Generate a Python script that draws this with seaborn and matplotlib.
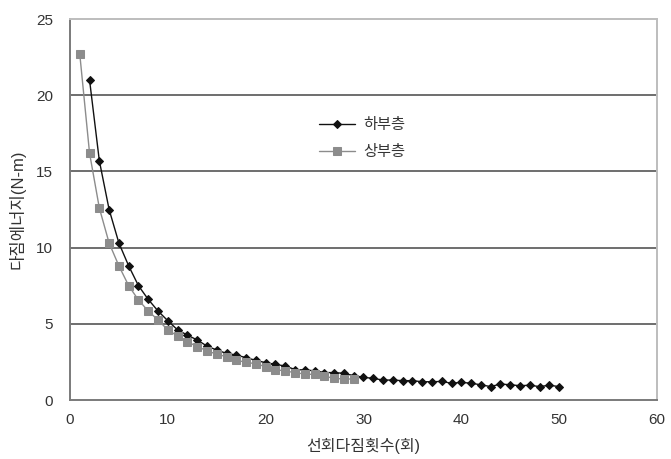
import matplotlib
matplotlib.use("Agg")
import matplotlib.pyplot as plt
import pandas as pd
import seaborn as sns

# ---------------------------------------------------------------------------
# Données
# ---------------------------------------------------------------------------
x_lower = list(range(2, 51))
y_lower = [21.0, 15.7, 12.5, 10.3, 8.8, 7.5, 6.6, 5.84, 5.2, 4.6,
           4.26, 3.94, 3.54, 3.28, 3.06, 2.95, 2.78, 2.6, 2.45, 2.34,
           2.23, 2.0, 1.97, 1.92, 1.8, 1.8, 1.75, 1.6, 1.49, 1.42,
           1.31, 1.31, 1.27, 1.27, 1.2, 1.2, 1.22, 1.1, 1.16, 1.1,
           1.0, 0.88, 1.05, 1.0, 0.94, 0.97, 0.88, 0.97, 0.88]

x_upper = list(range(1, 30))
y_upper = [22.7, 16.2, 12.6, 10.3, 8.8, 7.5, 6.56, 5.84, 5.25, 4.6,
           4.2, 3.83, 3.5, 3.24, 3.0, 2.85, 2.62, 2.47, 2.38, 2.19,
           2.0, 1.9, 1.8, 1.7, 1.68, 1.57, 1.42, 1.38, 1.38]

label_lower = "하부층"
label_upper = "상부층"

df_lower = pd.DataFrame({"x": x_lower, "y": y_lower})
df_upper = pd.DataFrame({"x": x_upper, "y": y_upper})

# ---------------------------------------------------------------------------
# Style
# ---------------------------------------------------------------------------
sns.set_theme(style="white")
plt.rcParams["font.family"] = ["Liberation Sans", "Noto Sans CJK KR", "DejaVu Sans"]

fig = plt.figure(figsize=(6.71, 4.59), dpi=100)
ax = fig.add_axes([0.1043, 0.1285, 0.8748, 0.8301])

sns.lineplot(data=df_lower, x="x", y="y", ax=ax, color="#111111",
             linewidth=1.0, marker="D", markersize=4.2,
             markeredgecolor="#111111", label=label_lower)
sns.lineplot(data=df_upper, x="x", y="y", ax=ax, color="#8c8c8c",
             linewidth=1.0, marker="s", markersize=6,
             markeredgecolor="#8c8c8c", label=label_upper)

ax.set_xlim(0, 60)
ax.set_ylim(0, 25)
ax.set_xticks(range(0, 61, 10))
ax.set_yticks(range(0, 26, 5))

# lignes horizontales de la grille
for yv in [5, 10, 15, 20]:
    ax.axhline(yv, color="#6e6e6e", linewidth=1.4, zorder=0)

for side in ["left", "bottom"]:
    ax.spines[side].set_color("#7a7a7a")
    ax.spines[side].set_linewidth(1.4)
for side in ["top", "right"]:
    ax.spines[side].set_color("#bdbdbd")
    ax.spines[side].set_linewidth(1.4)

ax.tick_params(axis="x", direction="in", length=3, color="#7a7a7a",
               labelsize=11, labelcolor="#333333", pad=9)
ax.tick_params(axis="y", length=0, labelsize=11, labelcolor="#333333", pad=12)

ax.set_xlabel("선회다짐횟수(회)", fontsize=11.5, color="#333333", labelpad=8)
ax.set_ylabel("다짐에너지(N-m)", fontsize=12, color="#333333", labelpad=8)

ax.legend(loc="upper left", bbox_to_anchor=(0.4, 0.775), frameon=False,
          fontsize=11, handlelength=2.4, handletextpad=0.5,
          labelspacing=0.85, labelcolor="#333333")

fig.savefig("out.png", dpi=100)
